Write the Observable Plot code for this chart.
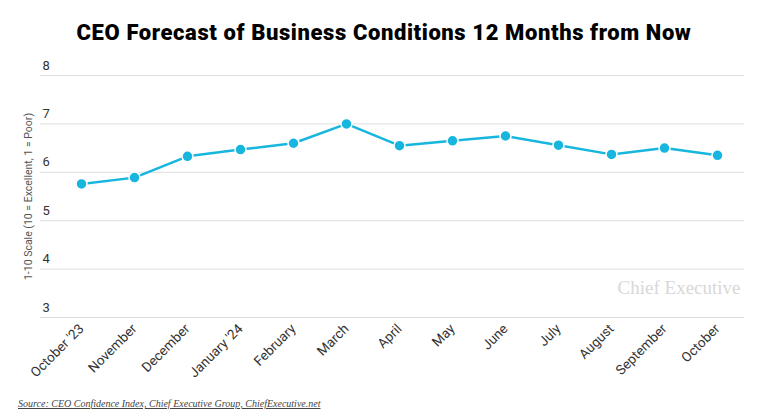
<!DOCTYPE html>
<html>
<head>
<meta charset="utf-8">
<script src="https://cdn.jsdelivr.net/npm/d3@7"></script>
<script src="https://cdn.jsdelivr.net/npm/@observablehq/plot@0.6"></script>
<style>
  html, body { margin: 0; padding: 0; background: #fff; }
  #wrap { width: 768px; height: 415px; position: relative; overflow: hidden; }
  #title { height: 50px; box-sizing: border-box; padding-top: 20px; text-align: center;
    font-family: Roboto, "Liberation Sans", sans-serif; font-weight: 900; font-size: 22px;
    letter-spacing: 0.6px; color: #000; line-height: 26px; }
  #caption { position: absolute; left: 18px; top: 398px; font-family: "Liberation Serif", "DejaVu Serif", serif;
    font-style: italic; font-size: 10px; color: #444; text-decoration: underline; }
  svg { display: block; }
</style>
</head>
<body>
<div id="wrap">
  <div id="title">CEO Forecast of Business Conditions 12 Months from Now</div>
  <div id="chart"></div>
  <div id="caption">Source: CEO Confidence Index, Chief Executive Group, ChiefExecutive.net</div>
</div>
<script>
const months = ["October '23", "November", "December", "January '24", "February", "March", "April", "May", "June", "July", "August", "September", "October"];
const values = [5.76, 5.89, 6.33, 6.47, 6.6, 7.0, 6.55, 6.65, 6.75, 6.56, 6.37, 6.5, 6.35];
const yTicks = [3, 4, 5, 6, 7, 8];
const yLabel = "1-10 Scale (10 = Excellent, 1 = Poor)";
const watermark = "Chief Executive";

const data = months.map((m, i) => ({month: m, value: values[i]}));
const blue = "#17b6de";

const chart = Plot.plot({
  width: 768,
  height: 340,
  marginTop: 25,
  marginBottom: 73,
  marginLeft: 40,
  marginRight: 24,
  style: {fontFamily: "Roboto, 'Liberation Sans', sans-serif", background: "#fff"},
  x: {type: "point", domain: months, range: [80, 717], padding: 0, axis: null},
  y: {domain: [3, 8], axis: null},
  marks: [
    Plot.ruleY(yTicks, {stroke: "#dedede", strokeWidth: 1}),
    Plot.text(yTicks, {y: d => d, text: d => String(d), frameAnchor: "left", textAnchor: "start", dx: 2, dy: -10, fontSize: 13, fill: "#333"}),
    Plot.text([yLabel], {text: d => d, frameAnchor: "left", textAnchor: "middle", rotate: -90, dx: -12, fontSize: 10.5, fill: "#555"}),
    Plot.text([watermark], {text: d => d, frameAnchor: "bottom-right", textAnchor: "end", dx: -4, dy: -24, fontSize: 19, fill: "#d8d8d8", fontFamily: "'Liberation Serif', serif", letterSpacing: "-0.5px"}),
    Plot.axisX({domain: months, tickSize: 0, tickPadding: 9, tickRotate: -45, fontSize: 13.5, color: "#333", label: null}),
    Plot.line(data, {x: "month", y: "value", stroke: blue, strokeWidth: 2.5}),
    Plot.dot(data, {x: "month", y: "value", r: 5.5, fill: blue, stroke: "#fff", strokeWidth: 1.5})
  ]
});
document.getElementById("chart").appendChild(chart);
</script>
</body>
</html>
